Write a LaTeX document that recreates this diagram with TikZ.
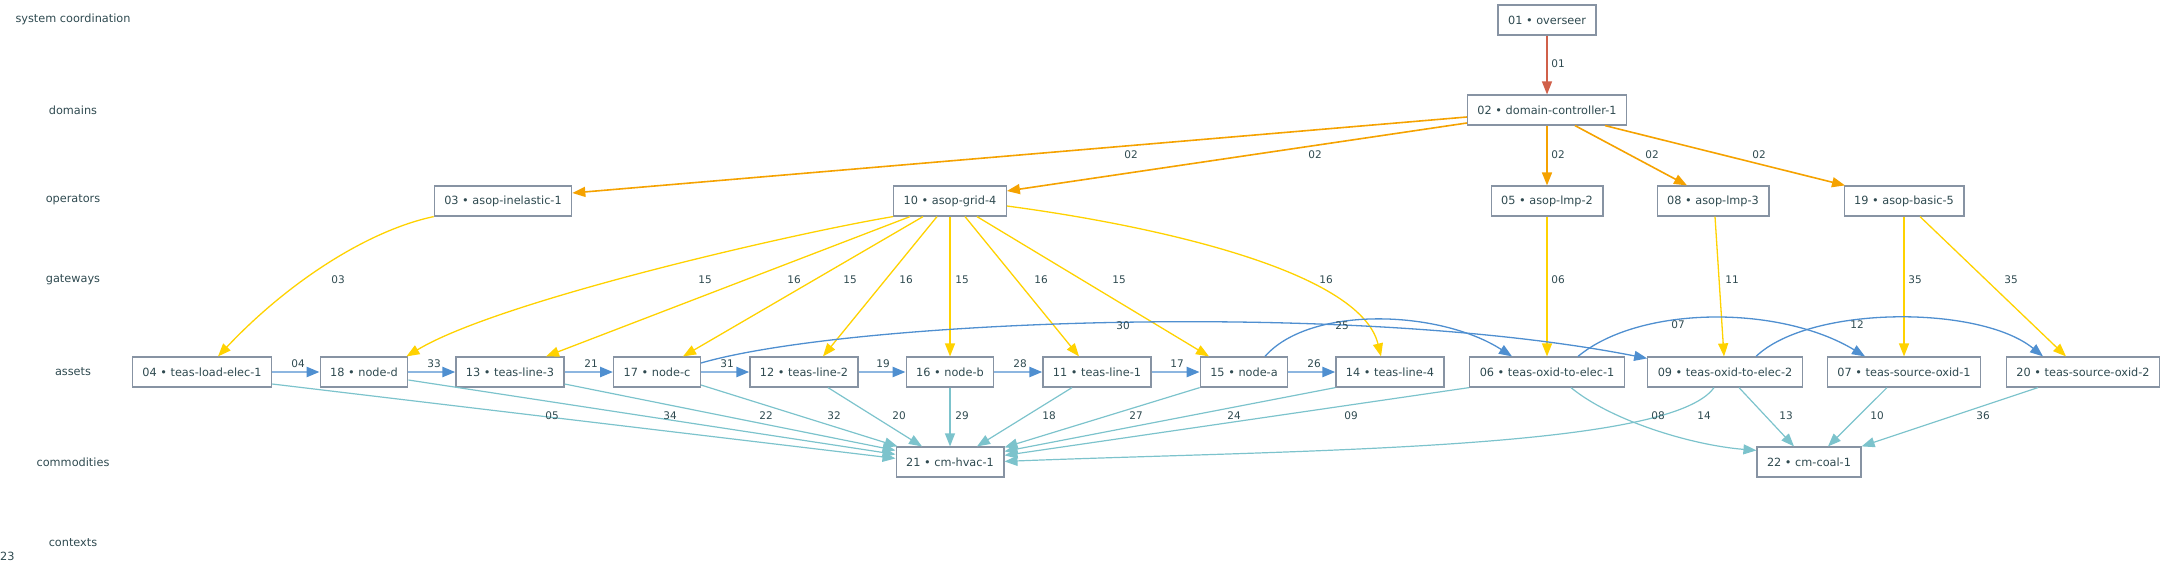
\documentclass[tikz,border=0pt]{standalone}
\usepackage{fontspec}
\setmainfont{DejaVu Sans}
\usepackage{xcolor}
\usepackage{tikz}
\usetikzlibrary{arrows.meta, positioning, calc}

\definecolor{txtc}{HTML}{2F4A50}
\definecolor{bordc}{HTML}{8793A3}
\definecolor{cRed}{HTML}{D0604A}
\definecolor{cOrange}{HTML}{F5A200}
\definecolor{cGold}{HTML}{FFD200}
\definecolor{cBlue}{HTML}{4F8FD0}
\definecolor{cTeal}{HTML}{7CC3CC}

\newcommand\boxfont{\fontsize{11.3}{13}\selectfont}
\newcommand\lblfont{\fontsize{10.5}{12}\selectfont}

\begin{document}
\begin{tikzpicture}[x=1pt, y=-1pt,
	box/.style={draw=bordc, line width=1.2pt, fill=white, text=txtc, font=\boxfont,
		minimum height=30pt, inner xsep=10pt, inner ysep=2pt},
	lvl/.style={text=txtc, font=\boxfont},
	elbl/.style={text=txtc, font=\lblfont, inner sep=1pt},
	tip/.style={-{Triangle[length=13pt,width=10pt]}},
	ered/.style={tip, draw=cRed, fill=cRed, line width=1.2pt},
	eorg/.style={tip, draw=cOrange, line width=1.6pt},
	egold/.style={tip, draw=cGold, line width=1.3pt},
	eblue/.style={tip, draw=cBlue, line width=1.3pt},
	echain/.style={-{Triangle[length=13pt,width=10pt,color=cBlue]}, draw=cBlue!65, line width=2.4pt},
	eteal/.style={tip, draw=cTeal, line width=1.2pt}]
		\useasboundingbox (0,0) rectangle (2165,563);
		
		% Row heights
		\def\ysys{20}
		\def\ydom{110}
		\def\yops{201}
		\def\yast{372}
		\def\ycom{462}
		
		% Levels
		\node[lvl] (lvlsys) at (73,19) {system coordination};
		\node[lvl] (lvldom) at (73,110) {domains};
		\node[lvl] (lvlops) at (73,200) {operators};
		\node[lvl] (lvlgw) at (73,280) {gateways};
		\node[lvl] (lvlast) at (73,372) {assets};
		\node[lvl] (lvlcom) at (73,462) {commodities};
		\node[lvl] (lvlctx) at (73,543) {contexts};
		\node[lvl, anchor=west, inner sep=0pt] (ctx23) at (0,556) {23};
		
		% Coordination, domains, operators
		\node[box] (n01) at (1547,\ysys) {01 • overseer};
		\node[box] (n02) at (1547,\ydom) {02 • domain-controller-1};
		\node[box] (n03) at (503,\yops) {03 • asop-inelastic-1};
		\node[box] (n10) at (950,\yops) {10 • asop-grid-4};
		\node[box] (n05) at (1547,\yops) {05 • asop-lmp-2};
		\node[box] (n08) at (1713,\yops) {08 • asop-lmp-3};
		\node[box] (n19) at (1904,\yops) {19 • asop-basic-5};
		
		% Assets
		\node[box] (n04) at (202,\yast) {04 • teas-load-elec-1};
		\node[box] (n18) at (364,\yast) {18 • node-d};
		\node[box] (n13) at (510,\yast) {13 • teas-line-3};
		\node[box] (n17) at (657,\yast) {17 • node-c};
		\node[box] (n12) at (804,\yast) {12 • teas-line-2};
		\node[box] (n16) at (950,\yast) {16 • node-b};
		\node[box] (n11) at (1097,\yast) {11 • teas-line-1};
		\node[box] (n15) at (1244,\yast) {15 • node-a};
		\node[box] (n14) at (1390,\yast) {14 • teas-line-4};
		\node[box] (n06) at (1547,\yast) {06 • teas-oxid-to-elec-1};
		\node[box] (n09) at (1725,\yast) {09 • teas-oxid-to-elec-2};
		\node[box] (n07) at (1904,\yast) {07 • teas-source-oxid-1};
		\node[box] (n20) at (2083,\yast) {20 • teas-source-oxid-2};
		
		% Commodities
		\node[box] (n21) at (950,\ycom) {21 • cm-hvac-1};
		\node[box] (n22) at (1809,\ycom) {22 • cm-coal-1};
		
		% Overseer and domain edges
		\draw[ered] (n01) -- (n02) node[elbl] at (1558,64) {01};
		\draw[eorg] ([yshift=-7pt]n02.west) -- ([yshift=8pt]n03.east) node[elbl] at (1131,155) {02};
		\draw[eorg] ([yshift=-13pt]n02.west) -- ([yshift=10pt]n10.east) node[elbl] at (1315,155) {02};
		\draw[eorg] (n02) -- (n05) node[elbl] at (1558,155) {02};
		\draw[eorg] ([xshift=28pt]n02.south) -- ([xshift=-26pt]n08.north) node[elbl] at (1652,155) {02};
		\draw[eorg] ([xshift=58pt]n02.south) -- ([xshift=-59pt]n19.north) node[elbl] at (1759,155) {02};
		
		% Operator edges
		\draw[egold] (n03.south west) .. controls (370,230) and (290,280) .. ([xshift=16pt]n04.north) node[elbl] at (338,280) {03};
		\draw[egold] (n10.south west) .. controls (800,232) and (500,300) .. ([xshift=-2pt]n18.north east) node[elbl] at (705,280) {15};
		\draw[egold] ([xshift=-40pt]n10.south) -- ([xshift=36pt]n13.north) node[elbl] at (794,280) {16};
		\draw[egold] ([xshift=-27pt]n10.south) -- ([xshift=26pt]n17.north) node[elbl] at (850,280) {15};
		\draw[egold] ([xshift=-13pt]n10.south) -- ([xshift=19pt]n12.north) node[elbl] at (906,280) {16};
		\draw[egold] (n10) -- (n16) node[elbl] at (962,280) {15};
		\draw[egold] ([xshift=15pt]n10.south) -- ([xshift=-18pt]n11.north) node[elbl] at (1041,280) {16};
		\draw[egold] ([xshift=27pt]n10.south) -- ([xshift=-35pt]n15.north) node[elbl] at (1119,280) {15};
		\draw[egold] ([yshift=-5pt]n10.east) .. controls (1150,225) and (1360,270) .. ([xshift=-9pt]n14.north) node[elbl] at (1326,280) {16};
		\draw[egold] (n05) -- (n06) node[elbl] at (1558,280) {06};
		\draw[egold] ([xshift=2pt]n08.south) -- ([xshift=-1pt]n09.north) node[elbl] at (1732,280) {11};
		\draw[egold] (n19) -- (n07) node[elbl] at (1915,280) {35};
		\draw[egold] ([xshift=16pt]n19.south) -- ([xshift=-17pt]n20.north) node[elbl] at (2011,280) {35};
		
		% Asset chain
		\draw[echain] (n04) -- (n18) node[elbl] at (298,364) {04};
		\draw[echain] (n18) -- (n13) node[elbl] at (434,364) {33};
		\draw[echain] (n13) -- (n17) node[elbl] at (591,364) {21};
		\draw[echain] (n17) -- (n12) node[elbl] at (727,364) {31};
		\draw[echain] (n12) -- (n16) node[elbl] at (883,364) {19};
		\draw[echain] (n16) -- (n11) node[elbl] at (1020,364) {28};
		\draw[echain] (n11) -- (n15) node[elbl] at (1177,364) {17};
		\draw[echain] (n15) -- (n14) node[elbl] at (1314,364) {26};
		
		% Asset links over the top
		\draw[eblue] ([yshift=9pt]n17.east) .. controls (850,320) and (1350,300) .. ([yshift=-2pt]n09.north west) node[elbl] at (1123,326) {30};
		\draw[eblue] ([xshift=21pt]n15.north) .. controls (1310,305) and (1440,310) .. ([xshift=-35pt]n06.north) node[elbl] at (1342,326) {25};
		\draw[eblue] ([xshift=31pt]n06.north) .. controls (1640,305) and (1780,305) .. ([xshift=-39pt]n07.north) node[elbl] at (1678,325) {07};
		\draw[eblue] ([xshift=31pt]n09.north) .. controls (1810,305) and (1980,305) .. ([xshift=-40pt]n20.north) node[elbl] at (1857,325) {12};
		
		% Commodity edges
		\draw[eteal] ([yshift=-12pt]n04.east) -- ([yshift=-12pt]n21.north west) node[elbl] at (552,416) {05};
		\draw[eteal] ([yshift=-8pt]n18.east) -- ([yshift=-8pt]n21.north west) node[elbl] at (670,416) {34};
		\draw[eteal] ([yshift=-12pt]n13.east) -- ([yshift=-4pt]n21.north west) node[elbl] at (766,416) {22};
		\draw[eteal] ([yshift=-13pt]n17.east) -- ([xshift=2pt]n21.north west) node[elbl] at (834,416) {32};
		\draw[eteal] ([xshift=24pt]n12.south) -- ([xshift=-28pt]n21.north) node[elbl] at (899,416) {20};
		\draw[eteal] (n16) -- (n21) node[elbl] at (962,416) {29};
		\draw[eteal] ([xshift=-25pt]n11.south) -- ([xshift=27pt]n21.north) node[elbl] at (1049,416) {18};
		\draw[eteal] (n15.south west) -- ([yshift=-1pt]n21.north east) node[elbl] at (1136,416) {27};
		\draw[eteal] (n14.south west) -- ([yshift=-5pt]n21.north east) node[elbl] at (1234,416) {24};
		\draw[eteal] (n06.south west) -- ([yshift=-9pt]n21.north east) node[elbl] at (1351,416) {09};
		\draw[eteal] ([xshift=-11pt]n09.south) .. controls (1670,450) and (1300,450) .. ([yshift=-15pt]n21.north east) node[elbl] at (1704,416) {14};
		\draw[eteal] ([xshift=24pt]n06.south) .. controls (1610,420) and (1690,445) .. ([yshift=-4pt]n22.north west) node[elbl] at (1658,416) {08};
		\draw[eteal] ([xshift=14pt]n09.south) -- ([xshift=-15pt]n22.north) node[elbl] at (1786,416) {13};
		\draw[eteal] ([xshift=-17pt]n07.south) -- ([xshift=19pt]n22.north) node[elbl] at (1877,416) {10};
		\draw[eteal] ([xshift=-45pt]n20.south) -- (n22.north east) node[elbl] at (1983,416) {36};
	\end{tikzpicture}
\end{document}
